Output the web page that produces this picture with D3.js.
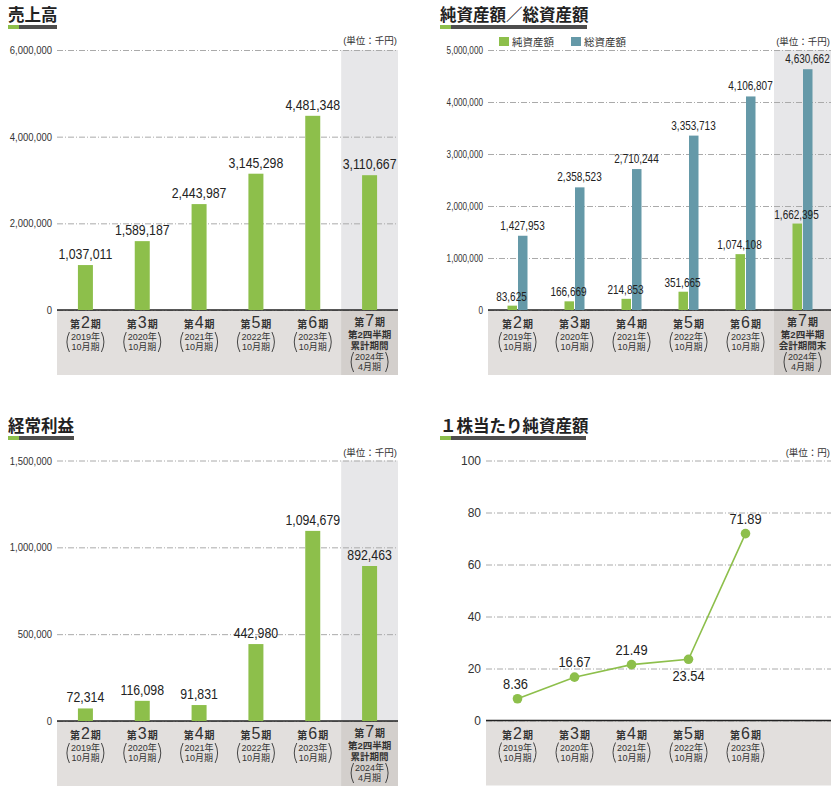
<!DOCTYPE html>
<html>
<head>
<meta charset="utf-8">
<script src="https://cdn.jsdelivr.net/npm/d3@7"></script>
<style>
body { margin: 0; background: #fff; }
svg text { font-family: "Liberation Sans", "Noto Sans CJK JP", sans-serif; }
</style>
</head>
<body>
<svg id="chart" width="838" height="793"></svg>
<script>
// ---- data ----
var periodNums   = ["2", "3", "4", "5", "6", "7"];
var periodYears  = ["2019年", "2020年", "2021年", "2022年", "2023年", "2024年"];
var periodMonths = ["10月期", "10月期", "10月期", "10月期", "10月期", "4月期"];
var q2Sales  = ["第2四半期", "累計期間"];
var q2Assets = ["第2四半期", "会計期間末"];

var sales          = [1037011, 1589187, 2443987, 3145298, 4481348, 3110667];
var netAssets      = [83625, 166669, 214853, 351665, 1074108, 1662395];
var totalAssets    = [1427953, 2358523, 2710244, 3353713, 4106807, 4630662];
var ordinaryProfit = [72314, 116098, 91831, 442980, 1094679, 892463];
var bps            = [8.36, 16.67, 21.49, 23.54, 71.89];

var salesTicks  = [0, 2000000, 4000000, 6000000];
var assetTicks  = [0, 1000000, 2000000, 3000000, 4000000, 5000000];
var profitTicks = [0, 500000, 1000000, 1500000];
var bpsTicks    = [0, 20, 40, 60, 80, 100];

var green = "#8dbf4b", teal = "#6599a8", ink = "#333";
var fmt = d3.format(",");

var svg = d3.select("#chart");

// title with the two-tone underline
function drawTitle(x, y, text, w) {
    svg.append("text")
        .attr("x", x).attr("y", y)
        .attr("font-family", "Noto Sans CJK JP")
        .attr("font-size", 16.5).attr("font-weight", 700)
        .attr("fill", "#222")
        .text(text);
    svg.append("rect").attr("x", x).attr("y", y + 4).attr("width", 11).attr("height", 4).attr("fill", green);
    svg.append("rect").attr("x", x + 11).attr("y", y + 4).attr("width", w - 11).attr("height", 4).attr("fill", "#4d4d4d");
}

// frame: highlight column, label band, grid, y axis
function drawFrame(p) {
    var g = svg.append("g");
    var x = d3.scaleBand().domain(d3.range(6)).range([p.left, p.right]);
    var y = d3.scaleLinear().domain([0, p.ticks[p.ticks.length - 1]]).range([p.base, p.top]);
    var top = y(p.ticks[p.ticks.length - 1]);

    if (p.highlight) {
        g.append("rect").attr("x", x(5)).attr("y", top)
            .attr("width", x.bandwidth()).attr("height", p.base - top)
            .attr("fill", "#e7e7e9");
    }
    g.append("rect").attr("x", p.gridLeft).attr("y", p.base)
        .attr("width", p.right - p.gridLeft).attr("height", 65)
        .attr("fill", "#e2dfdd");
    if (p.highlight) {
        g.append("rect").attr("x", x(5)).attr("y", p.base)
            .attr("width", x.bandwidth()).attr("height", 65)
            .attr("fill", "#d3cfcc");
    }

    var axis = g.append("g")
        .attr("transform", "translate(" + p.gridLeft + ",0)")
        .call(d3.axisLeft(y)
            .tickValues(p.ticks)
            .tickSize(-(p.right - p.gridLeft))
            .tickPadding(0)
            .tickFormat(p.tickFormat));
    axis.select(".domain").remove();
    axis.selectAll(".tick line")
        .attr("stroke", "#aaa")
        .attr("stroke-dasharray", "6 2 1 2");
    axis.selectAll(".tick text")
        .attr("x", null)
        .attr("dy", "0.35em")
        .attr("font-size", p.tickSize)
        .attr("fill", ink)
        .attr("transform", "translate(-5,0) scale(" + p.tickScale + ",1)");

    // base line
    g.append("line")
        .attr("x1", p.gridLeft).attr("x2", p.right)
        .attr("y1", p.base).attr("y2", p.base)
        .attr("stroke", "#222").attr("stroke-width", 1.3);

    svg.append("text")
        .attr("x", p.right - 1).attr("y", p.unitY)
        .attr("text-anchor", "end")
        .attr("font-family", "Noto Sans CJK JP")
        .attr("font-size", 9.5).attr("fill", ink)
        .text(p.unit);

    return {x: x, y: y, g: g};
}

// period labels inside the grey band
function drawPeriods(g, x, base, count, extraLines) {
    for (var i = 0; i < count; i++) {
        var cx = x(i) + x.bandwidth() / 2;
        var extra = i === 5 ? extraLines : [];
        var t = g.append("text")
            .attr("x", cx).attr("y", base + (extra.length ? 16 : 18))
            .attr("text-anchor", "middle")
            .attr("fill", ink);
        t.append("tspan").text("第").attr("font-size", 10).attr("font-weight", 700)
            .attr("font-family", "Noto Sans CJK JP");
        t.append("tspan").text(periodNums[i]).attr("font-size", 16).attr("dx", 1);
        t.append("tspan").text("期").attr("font-size", 10).attr("font-weight", 700)
            .attr("font-family", "Noto Sans CJK JP").attr("dx", 1);

        extra.forEach(function(s, j) {
            g.append("text")
                .attr("x", cx).attr("y", base + 28 + j * 10.5)
                .attr("text-anchor", "middle")
                .attr("font-family", "Noto Sans CJK JP")
                .attr("font-size", 9.5).attr("font-weight", 700)
                .attr("fill", ink)
                .text(s);
        });

        var py = extra.length ? base + 50 : base + 30;
        [periodYears[i], periodMonths[i]].forEach(function(s, j) {
            g.append("text")
                .attr("x", cx).attr("y", py + j * 10)
                .attr("text-anchor", "middle")
                .attr("font-size", 9)
                .attr("fill", ink)
                .text(s);
        });
        // tall parentheses around year / month
        g.append("path")
            .attr("d", "M" + (cx - 16) + "," + (py - 8) + " Q" + (cx - 21) + "," + (py + 2) + " " + (cx - 16) + "," + (py + 12))
            .attr("fill", "none").attr("stroke", ink).attr("stroke-width", 0.9);
        g.append("path")
            .attr("d", "M" + (cx + 16) + "," + (py - 8) + " Q" + (cx + 21) + "," + (py + 2) + " " + (cx + 16) + "," + (py + 12))
            .attr("fill", "none").attr("stroke", ink).attr("stroke-width", 0.9);
    }
}

function valueLabel(g, x, y, text, size, sx) {
    g.append("text")
        .attr("transform", "translate(" + x + "," + y + ") scale(" + sx + ",1)")
        .attr("text-anchor", "middle")
        .attr("font-size", size)
        .attr("fill", "#222")
        .text(text);
}

// ---- 売上高 ----
drawTitle(8, 21, "売上高", 49);
var f1 = drawFrame({left: 57, right: 398, gridLeft: 57, top: 50, base: 310,
    ticks: salesTicks, tickFormat: fmt, tickSize: 10, tickScale: 0.95,
    highlight: true, unit: "(単位：千円)", unitY: 44});
f1.g.selectAll(".bar").data(sales).enter().append("rect")
    .attr("x", function(d, i) { return f1.x(i) + f1.x.bandwidth() / 2 - 7.5; })
    .attr("y", function(d) { return f1.y(d); })
    .attr("width", 15)
    .attr("height", function(d) { return f1.y(0) - f1.y(d); })
    .attr("fill", green);
sales.forEach(function(d, i) {
    valueLabel(f1.g, f1.x(i) + f1.x.bandwidth() / 2, f1.y(d) - 6, fmt(d), 14, 0.88);
});
drawPeriods(f1.g, f1.x, 310, 6, q2Sales);

// ---- 純資産額／総資産額 ----
drawTitle(440, 21, "純資産額／総資産額", 147);
var f2 = drawFrame({left: 489, right: 831, gridLeft: 488, top: 50, base: 310,
    ticks: assetTicks, tickFormat: fmt, tickSize: 10, tickScale: 0.82,
    highlight: true, unit: "(単位：千円)", unitY: 45});
f2.g.selectAll(".net").data(netAssets).enter().append("rect")
    .attr("x", function(d, i) { return f2.x(i) + f2.x.bandwidth() / 2 - 10; })
    .attr("y", function(d) { return f2.y(d); })
    .attr("width", 9.5)
    .attr("height", function(d) { return f2.y(0) - f2.y(d); })
    .attr("fill", green);
f2.g.selectAll(".tot").data(totalAssets).enter().append("rect")
    .attr("x", function(d, i) { return f2.x(i) + f2.x.bandwidth() / 2 + 0.5; })
    .attr("y", function(d) { return f2.y(d); })
    .attr("width", 9.5)
    .attr("height", function(d) { return f2.y(0) - f2.y(d); })
    .attr("fill", teal);
netAssets.forEach(function(d, i) {
    valueLabel(f2.g, f2.x(i) + f2.x.bandwidth() / 2 - 6, f2.y(d) - 5, fmt(d), 12.5, 0.8);
});
totalAssets.forEach(function(d, i) {
    valueLabel(f2.g, f2.x(i) + f2.x.bandwidth() / 2 + 5, f2.y(d) - 6, fmt(d), 12.5, 0.8);
});
drawPeriods(f2.g, f2.x, 310, 6, q2Assets);

// legend
[["純資産額", green, 499], ["総資産額", teal, 571]].forEach(function(l) {
    svg.append("rect").attr("x", l[2]).attr("y", 37).attr("width", 10).attr("height", 9).attr("fill", l[1]);
    svg.append("text").attr("x", l[2] + 13).attr("y", 45.5)
        .attr("font-family", "Noto Sans CJK JP").attr("font-size", 10.5).attr("fill", ink)
        .text(l[0]);
});

// ---- 経常利益 ----
drawTitle(8, 432, "経常利益", 66);
var f3 = drawFrame({left: 57, right: 398, gridLeft: 57, top: 460.5, base: 721,
    ticks: profitTicks, tickFormat: fmt, tickSize: 10, tickScale: 0.95,
    highlight: true, unit: "(単位：千円)", unitY: 456});
f3.g.selectAll(".bar").data(ordinaryProfit).enter().append("rect")
    .attr("x", function(d, i) { return f3.x(i) + f3.x.bandwidth() / 2 - 7.5; })
    .attr("y", function(d) { return f3.y(d); })
    .attr("width", 15)
    .attr("height", function(d) { return f3.y(0) - f3.y(d); })
    .attr("fill", green);
ordinaryProfit.forEach(function(d, i) {
    valueLabel(f3.g, f3.x(i) + f3.x.bandwidth() / 2, f3.y(d) - 6, fmt(d), 14, 0.88);
});
drawPeriods(f3.g, f3.x, 721, 6, q2Sales);

// ---- １株当たり純資産額 ----
drawTitle(440, 432, "１株当たり純資産額", 146);
var f4 = drawFrame({left: 489, right: 831, gridLeft: 486, top: 460.5, base: 720.5,
    ticks: bpsTicks, tickFormat: d3.format("d"), tickSize: 12, tickScale: 1,
    highlight: false, unit: "(単位：円)", unitY: 456});
var cxOf = function(i) { return f4.x(i) + f4.x.bandwidth() / 2; };
var valueline = d3.line()
    .x(function(d, i) { return cxOf(i); })
    .y(function(d) { return f4.y(d); });
f4.g.append("path")
    .attr("d", valueline(bps))
    .attr("fill", "none")
    .attr("stroke", green)
    .attr("stroke-width", 1.6);
f4.g.selectAll(".dot").data(bps).enter().append("circle")
    .attr("cx", function(d, i) { return cxOf(i); })
    .attr("cy", function(d) { return f4.y(d); })
    .attr("r", 4.8)
    .attr("fill", green);
bps.forEach(function(d, i) {
    // 4th label sits below the point
    var dy = i === 3 ? 22 : -10;
    var dx = i === 0 ? -2 : 0;
    valueLabel(f4.g, cxOf(i) + dx, f4.y(d) + dy, d.toFixed(2), 14, 0.92);
});
drawPeriods(f4.g, f4.x, 720.5, 5, []);
</script>
</body>
</html>
